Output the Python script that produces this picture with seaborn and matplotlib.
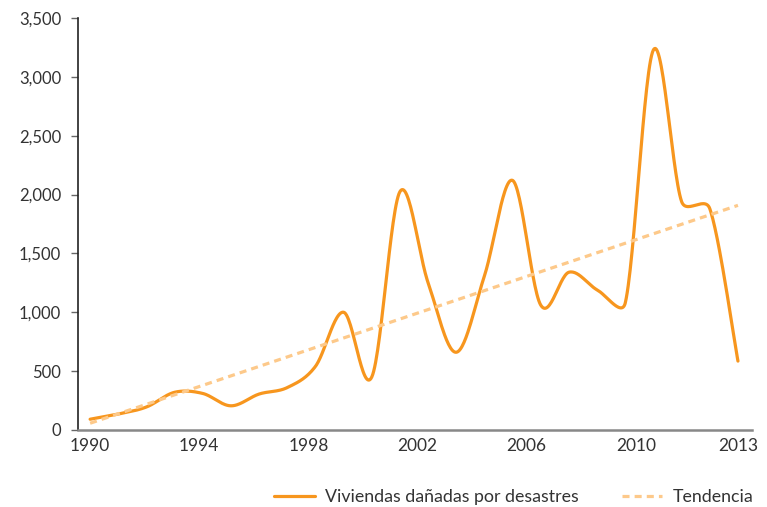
import numpy as np
import pandas as pd
from matplotlib import pyplot as plt
from matplotlib.ticker import FuncFormatter
import seaborn as sns

# datos
years = list(range(1990, 2014))
viviendas = [91, 135, 195, 320, 310, 205, 305, 360, 540, 1000, 450, 2025,
             1250, 660, 1310, 2120, 1060, 1340, 1190, 1080, 3230, 1940, 1880, 585]
tick_labels = ['1990', '1994', '1998', '2002', '2006', '2010', '2013']
y_ticks = [0, 500, 1000, 1500, 2000, 2500, 3000, 3500]

line_color = '#F7961E'
trend_color = '#FDC98A'
text_color = '#333333'


def excel_smooth(ax, x, y, n=30):
    """
    curva suavizada como la de Excel: bezier con puntos de control a 1/6,
    recortados a la mitad del segmento (calculado en pixeles)
    """
    trans = ax.transData
    p = trans.transform(np.column_stack([x, y]))
    p = np.vstack([p[0], p, p[-1]])
    t = np.linspace(0, 1, n)[:, None]
    out = []
    for i in range(1, len(p) - 2):
        p0, p1, p2, p3 = p[i - 1], p[i], p[i + 1], p[i + 2]
        d12 = np.linalg.norm(p2 - p1)
        d02 = np.linalg.norm(p2 - p0)
        d13 = np.linalg.norm(p3 - p1)
        f1 = f2 = 1 / 6
        if d02 > 0 and d02 / 6 >= d12 / 2:
            f1 = d12 / (2 * d02)
        if d13 > 0 and d13 / 6 >= d12 / 2:
            f2 = d12 / (2 * d13)
        c1 = p1 + f1 * (p2 - p0)
        c2 = p2 - f2 * (p3 - p1)
        seg = ((1 - t) ** 3 * p1 + 3 * (1 - t) ** 2 * t * c1
               + 3 * (1 - t) * t ** 2 * c2 + t ** 3 * p2)
        out.append(seg if i == 1 else seg[1:])
    out = trans.inverted().transform(np.vstack(out))
    return out[:, 0], out[:, 1]


df = pd.DataFrame({'year': years, 'viviendas': viviendas})

sns.set_style('white')
plt.rcParams['font.family'] = ['Lato', 'DejaVu Sans']

fig = plt.figure(figsize=(7.67, 5.07), dpi=100)
ax = fig.add_axes([0.1017, 0.152, 0.8788, 0.8125])
ax.set_xlim(1989.57, 2013.5)
ax.set_ylim(0, 3500)

sx, sy = excel_smooth(ax, df['year'], df['viviendas'])
curve = pd.DataFrame({'year': sx, 'viviendas': sy})

sns.lineplot(data=curve, x='year', y='viviendas', ax=ax, color=line_color,
             linewidth=2.3, label='Viviendas dañadas por desastres',
             sort=False, estimator=None)
sns.regplot(data=df, x='year', y='viviendas', ax=ax, scatter=False, ci=None,
            color=trend_color, label='Tendencia',
            line_kws={'linestyle': (0, (2.2, 1.6)), 'linewidth': 2.3})

ax.set_xlim(1989.57, 2013.5)
ax.set_ylim(0, 3500)
ax.set_xlabel('')
ax.set_ylabel('')

# las etiquetas del eje x estan igualmente espaciadas en el original
tick_pos = [1990 + i * 3.875 for i in range(6)] + [2013]
ax.set_xticks(tick_pos)
ax.set_xticklabels(tick_labels)
ax.set_yticks(y_ticks)
ax.yaxis.set_major_formatter(FuncFormatter(lambda v, _: f'{int(v):,}'))

ax.tick_params(axis='x', length=0, pad=6, labelsize=12.5, colors=text_color)
ax.tick_params(axis='y', length=5, width=1, color='#666666', pad=7,
               labelsize=12, labelcolor=text_color, left=True)

for side in ['top', 'right']:
    ax.spines[side].set_visible(False)
ax.spines['left'].set_color('#222222')
ax.spines['left'].set_linewidth(1.2)
ax.spines['bottom'].set_color('#888888')
ax.spines['bottom'].set_linewidth(1.8)

ax.get_legend().remove()
handles, labels = ax.get_legend_handles_labels()
fig.legend(handles, labels, loc='lower right', bbox_to_anchor=(0.982, 0.004),
           ncol=2, frameon=False, fontsize=12.8, handlelength=2.3,
           columnspacing=2.4, handletextpad=0.56, borderpad=0,
           borderaxespad=0, labelcolor=text_color)

fig.savefig('out.png', dpi=100)
